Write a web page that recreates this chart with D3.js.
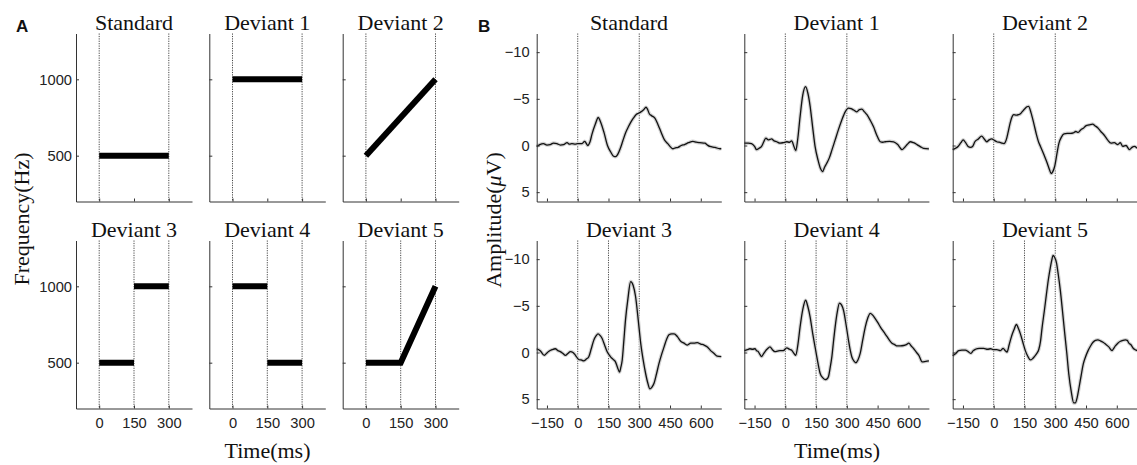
<!DOCTYPE html>
<html>
<head>
<meta charset="utf-8">
<script src="https://cdn.jsdelivr.net/npm/d3@7"></script>
<style>
    body { margin: 0; background: #fff; }
    .axis path, .axis line { stroke: #333; }
    .axis text { font-family: "Liberation Sans", Arial, sans-serif; font-size: 14.7px; fill: #222; }
    .title, .label { font-family: "Liberation Serif", "Times New Roman", serif; font-size: 22px; fill: #111; }
    .panel { font-family: "Liberation Sans", Arial, sans-serif; font-weight: bold; font-size: 17px; fill: #111; }
</style>
</head>
<body>
<svg id="fig" width="1137" height="465"></svg>
<script>
const titles = ["Standard", "Deviant 1", "Deviant 2", "Deviant 3", "Deviant 4", "Deviant 5"];
const freqTicks = [500, 1000];
const timeTicksA = [0, 150, 300];
const timeTicksB = [-150, 0, 150, 300, 450, 600];
const ampTicks = [-10, -5, 0, 5];
const markerTimes = [[0, 300], [0, 300], [0, 300], [0, 150, 300], [0, 150, 300], [0, 150, 300]];

// stimulus frequency contours (ms, Hz), one list of segments per condition
const toneStandard = [[[0, 500], [300, 500]]];
const toneDeviant1 = [[[0, 1000], [300, 1000]]];
const toneDeviant2 = [[[0, 500], [300, 1000]]];
const toneDeviant3 = [[[0, 500], [150, 500]], [[150, 1000], [300, 1000]]];
const toneDeviant4 = [[[0, 1000], [150, 1000]], [[150, 500], [300, 500]]];
const toneDeviant5 = [[[0, 500], [150, 500], [300, 1000]]];

// grand average ERPs (ms, uV)
const erpStandard = [[-200,0.1],[-185,-0.1],[-167,-0.2],[-150,-0.05],[-134,-0.1],[-118,-0.25],[-102,-0.2],[-85,-0.05],[-69,-0.1],[-52,-0.3],[-40,-0.15],[-28,-0.2],[-12,-0.15],[0,-0.2],[21,-0.2],[34,-0.45],[49,0],[60,-0.4],[70,-1.25],[86,-2.3],[100,-3.0],[110,-2.6],[128,-1.4],[145,0],[161,0.7],[175,1.15],[185,1.2],[195,0.95],[207,0.35],[220,-0.5],[234,-1.4],[247,-2.0],[259,-2.5],[272,-2.95],[284,-3.3],[296,-3.45],[308,-3.6],[320,-3.8],[333,-4.1],[340,-3.9],[349,-3.4],[360,-3.2],[377,-2.9],[392,-2.2],[407,-1.4],[423,-0.6],[439,-0.2],[452,0.15],[464,0.35],[476,0.25],[489,0.2],[505,0],[521,-0.1],[540,-0.3],[562,-0.45],[578,-0.35],[595,-0.3],[620,-0.25],[632,-0.05],[644,0.1],[669,0.2],[693,0.35],[700,0.35]];
const erpDeviant1 = [[-200,-0.25],[-180,-0.25],[-165,-0.2],[-150,0.1],[-140,0.45],[-128,0.3],[-116,0.1],[-105,-0.4],[-95,-0.8],[-83,-0.6],[-75,-0.65],[-67,-0.7],[-55,-0.5],[-42,-0.4],[-26,-0.25],[-10,-0.3],[7,-0.4],[20,-0.35],[31,-0.5],[42,0.1],[51,0.55],[60,-0.6],[72,-3.1],[85,-5.4],[99,-6.3],[110,-5.6],[121,-4.2],[133,-2.0],[145,0.1],[160,1.6],[172,2.5],[181,2.8],[192,2.3],[202,1.9],[215,1.3],[227,0.5],[243,-0.6],[259,-1.7],[275,-2.7],[292,-3.6],[308,-4.0],[320,-3.95],[333,-3.8],[349,-3.6],[361,-3.85],[373,-3.9],[386,-3.6],[398,-3.3],[414,-2.7],[430,-2.0],[446,-1.1],[463,-0.4],[475,-0.35],[488,-0.4],[508,-0.45],[528,-0.4],[548,-0.1],[569,0.45],[582,0.2],[594,-0.1],[609,-0.4],[625,-0.3],[642,-0.1],[660,0.15],[674,0.3],[700,0.36]];
const erpDeviant2 = [[-200,0.45],[-186,0.3],[-174,0.1],[-160,-0.3],[-149,-0.6],[-137,-0.3],[-125,0.1],[-113,0.2],[-103,0.1],[-92,-0.4],[-75,-0.7],[-59,-1.0],[-46,-0.7],[-34,-0.4],[-22,-0.6],[-10,-0.7],[3,-0.55],[15,-0.4],[27,-0.35],[39,-0.25],[50,-0.2],[61,-0.6],[70,-1.4],[80,-2.4],[90,-3.1],[97,-3.3],[110,-3.25],[121,-3.3],[130,-3.4],[138,-3.6],[146,-3.8],[154,-4.0],[162,-4.15],[170,-4.2],[182,-3.5],[195,-2.4],[208,-1.2],[220,-0.3],[228,0.1],[245,1.0],[261,1.9],[272,2.6],[280,3.0],[288,2.8],[297,2.25],[308,0.9],[318,-0.25],[330,-0.9],[343,-1.25],[358,-1.3],[375,-1.3],[388,-1.35],[400,-1.5],[412,-1.4],[425,-1.7],[437,-1.85],[449,-2.1],[465,-2.2],[482,-2.3],[495,-2.1],[507,-1.9],[522,-1.5],[539,-1.1],[555,-0.6],[572,-0.25],[588,-0.3],[605,-0.1],[617,-0.3],[629,0.1],[645,0.0],[662,0.45],[674,0.2],[686,0.1],[700,0.3]];
const erpDeviant3 = [[-200,-0.4],[-183,-0.2],[-163,0.3],[-150,0.05],[-142,-0.1],[-125,-0.3],[-109,-0.4],[-97,-0.2],[-85,-0.1],[-72,0.1],[-60,0.3],[-48,0.1],[-36,-0.1],[-23,0.0],[-11,0.3],[5,0.75],[17,0.8],[29,0.9],[42,0.7],[54,0.45],[66,-0.4],[78,-1.3],[90,-1.8],[99,-2.0],[110,-1.8],[119,-1.5],[131,-0.8],[143,-0.1],[155,0.3],[168,0.65],[176,0.8],[184,1.0],[194,1.6],[204,2.1],[210,1.6],[217,0.8],[225,-1.3],[233,-3.5],[245,-5.8],[258,-7.6],[270,-7.2],[282,-6.0],[295,-3.5],[307,-1.0],[319,0.8],[331,2.25],[342,3.3],[352,3.9],[362,3.7],[372,3.3],[384,2.3],[396,1.2],[409,0.2],[421,-0.6],[433,-1.4],[445,-1.9],[458,-2.0],[470,-2.0],[486,-1.7],[502,-1.2],[518,-1.0],[535,-0.8],[551,-1.0],[567,-1.0],[583,-1.05],[600,-0.9],[616,-0.8],[632,-0.6],[648,-0.2],[665,0.1],[680,0.4],[700,0.45]];
const erpDeviant4 = [[-200,-0.2],[-185,-0.3],[-173,-0.4],[-160,-0.35],[-148,-0.4],[-140,-0.2],[-132,-0.1],[-124,0.2],[-116,0.45],[-108,0.2],[-99,-0.1],[-87,-0.4],[-75,-0.6],[-63,-0.3],[-51,-0.1],[-38,-0.15],[-26,-0.2],[-10,-0.2],[7,-0.5],[20,-0.35],[31,-0.25],[42,0.1],[51,0.3],[61,-0.8],[72,-2.75],[85,-4.6],[99,-5.6],[110,-4.9],[121,-3.8],[133,-2.1],[145,-0.6],[158,1.0],[170,2.25],[182,2.7],[194,2.9],[202,2.85],[210,2.6],[218,1.7],[227,0.45],[235,-1.2],[243,-2.75],[253,-4.3],[264,-5.3],[274,-5.1],[284,-4.5],[296,-3.0],[308,-1.3],[316,-0.3],[324,0.45],[334,0.9],[344,1.1],[354,0.8],[365,0.1],[377,-1.3],[390,-2.75],[402,-3.7],[414,-4.2],[426,-4.0],[439,-3.6],[451,-3.2],[463,-2.75],[480,-2.2],[496,-1.7],[508,-1.3],[520,-1.0],[533,-0.85],[545,-0.7],[561,-0.7],[577,-0.75],[590,-0.85],[602,-1.0],[614,-0.7],[626,-0.4],[640,0.0],[651,0.3],[667,1.0],[685,0.95],[700,0.9]];
const erpDeviant5 = [[-200,0.35],[-185,0.1],[-171,-0.2],[-155,-0.25],[-138,-0.25],[-125,-0.1],[-111,0.1],[-100,-0.2],[-89,-0.35],[-70,-0.45],[-49,-0.45],[-30,-0.35],[-15,-0.4],[0,-0.3],[15,-0.3],[33,-0.2],[46,-0.45],[56,-0.2],[65,-0.05],[75,-0.8],[85,-1.6],[98,-2.4],[111,-3.0],[120,-2.6],[130,-2.0],[142,-1.1],[154,-0.2],[166,0.4],[179,0.8],[190,0.65],[198,0.45],[210,0.1],[220,-0.35],[228,-1.2],[236,-2.7],[247,-4.5],[257,-6.25],[267,-7.9],[276,-9.1],[283,-9.9],[289,-10.4],[297,-10.2],[306,-9.6],[315,-8.3],[325,-6.6],[335,-4.5],[345,-2.3],[356,0.0],[366,2.3],[378,4.2],[390,5.4],[398,5.4],[407,4.8],[416,3.75],[426,2.5],[437,1.2],[447,0.5],[460,-0.2],[472,-0.7],[484,-1.1],[496,-1.3],[508,-1.35],[520,-1.25],[533,-1.1],[545,-0.9],[561,-0.6],[577,-0.2],[585,-0.45],[593,-0.7],[605,-1.0],[618,-1.2],[630,-1.3],[642,-1.35],[651,-1.3],[659,-1.0],[670,-0.8],[680,-0.45],[690,-0.3],[700,-0.2]];

const tones = [toneStandard, toneDeviant1, toneDeviant2, toneDeviant3, toneDeviant4, toneDeviant5];
const erps = [erpStandard, erpDeviant1, erpDeviant2, erpDeviant3, erpDeviant4, erpDeviant5];

const svg = d3.select("#fig");
const rowTops = [33.5, 240.5];
const plotH = 168;

function addMarkers(g, x, times, h) {
    g.selectAll("line.marker")
        .data(times)
      .enter().append("line")
        .attr("class", "marker")
        .attr("x1", d => x(d)).attr("x2", d => x(d))
        .attr("y1", 0).attr("y2", h)
        .attr("stroke", "#333")
        .attr("stroke-width", 0.9)
        .attr("stroke-dasharray", "1.2,1.2");
}

function drawPanelA() {
    const cols = [76, 209.3, 342.7];
    const w = 116;
    const x = d3.scaleLinear().domain([-100, 400]).range([0, w]);
    const y = d3.scaleLinear().domain([200, 1300]).range([plotH, 0]);
    const line = d3.line().x(d => x(d[0])).y(d => y(d[1]));

    titles.forEach((title, i) => {
        const row = Math.floor(i / 3), col = i % 3;
        const g = svg.append("g")
            .attr("transform", "translate(" + cols[col] + "," + rowTops[row] + ")");

        addMarkers(g, x, markerTimes[i], plotH);

        g.selectAll("path.tone")
            .data(tones[i])
          .enter().append("path")
            .attr("class", "tone")
            .attr("d", line)
            .attr("fill", "none")
            .attr("stroke", "#000")
            .attr("stroke-width", 6)
            .attr("stroke-linejoin", "miter");

        g.append("g")
            .attr("class", "axis")
            .attr("transform", "translate(0," + plotH + ")")
            .call(d3.axisBottom(x).tickValues(timeTicksA).tickSizeInner(-3).tickSizeOuter(0).tickPadding(9.5)
                .tickFormat(row === 1 ? d3.format("d") : ""));

        g.append("g")
            .attr("class", "axis")
            .call(d3.axisLeft(y).tickValues(freqTicks).tickSizeInner(-3).tickSizeOuter(0).tickPadding(4)
                .tickFormat(col === 0 ? d3.format("d") : ""));

        g.append("text")
            .attr("class", "title")
            .attr("x", w / 2).attr("y", -4)
            .attr("text-anchor", "middle")
            .text(title);
    });

    svg.append("text").attr("class", "panel").attr("x", 16).attr("y", 32.3).text("A");

    svg.append("text")
        .attr("class", "label")
        .attr("transform", "translate(29,219) rotate(-90)")
        .attr("text-anchor", "middle")
        .text("Frequency(Hz)");

    svg.append("text")
        .attr("class", "label")
        .attr("x", 267.5).attr("y", 457.5)
        .attr("text-anchor", "middle")
        .text("Time(ms)");
}

function drawPanelB() {
    const cols = [536.7, 744.3, 952.7];
    const w = 184.6;
    const x = d3.scaleLinear().domain([-200, 700]).range([0, w]);
    const y = d3.scaleLinear().domain([-12, 6]).range([0, plotH]);
    const line = d3.line().x(d => x(d[0])).y(d => y(d[1])).curve(d3.curveMonotoneX);

    titles.forEach((title, i) => {
        const row = Math.floor(i / 3), col = i % 3;
        const g = svg.append("g")
            .attr("transform", "translate(" + cols[col] + "," + rowTops[row] + ")");

        addMarkers(g, x, markerTimes[i], plotH);

        // shaded error band, drawn as a wide light stroke under the mean
        g.append("path")
            .datum(erps[i])
            .attr("d", line)
            .attr("fill", "none")
            .attr("stroke", "#d2d2d2")
            .attr("stroke-width", 3.6)
            .attr("stroke-linejoin", "round");

        g.append("path")
            .datum(erps[i])
            .attr("d", line)
            .attr("fill", "none")
            .attr("stroke", "#111")
            .attr("stroke-width", 1.3)
            .attr("stroke-linejoin", "round");

        g.append("g")
            .attr("class", "axis")
            .attr("transform", "translate(0," + plotH + ")")
            .call(d3.axisBottom(x).tickValues(timeTicksB).tickSizeInner(-3).tickSizeOuter(0).tickPadding(9.5)
                .tickFormat(row === 1 ? d3.format("d") : ""));

        g.append("g")
            .attr("class", "axis")
            .call(d3.axisLeft(y).tickValues(ampTicks).tickSizeInner(-3).tickSizeOuter(0).tickPadding(7)
                .tickFormat(col === 0 ? d3.format("d") : ""));

        g.append("text")
            .attr("class", "title")
            .attr("x", w / 2).attr("y", -4)
            .attr("text-anchor", "middle")
            .text(title);
    });

    svg.append("text").attr("class", "panel").attr("x", 478).attr("y", 32.3).text("B");

    const amp = svg.append("text")
        .attr("class", "label")
        .attr("transform", "translate(501,220) rotate(-90)")
        .attr("text-anchor", "middle");
    amp.append("tspan").text("Amplitude(");
    amp.append("tspan").attr("font-style", "italic").text("\u03bc");
    amp.append("tspan").text("V)");

    svg.append("text")
        .attr("class", "label")
        .attr("x", 837).attr("y", 457.5)
        .attr("text-anchor", "middle")
        .text("Time(ms)");
}

drawPanelA();
drawPanelB();
</script>
</body>
</html>
